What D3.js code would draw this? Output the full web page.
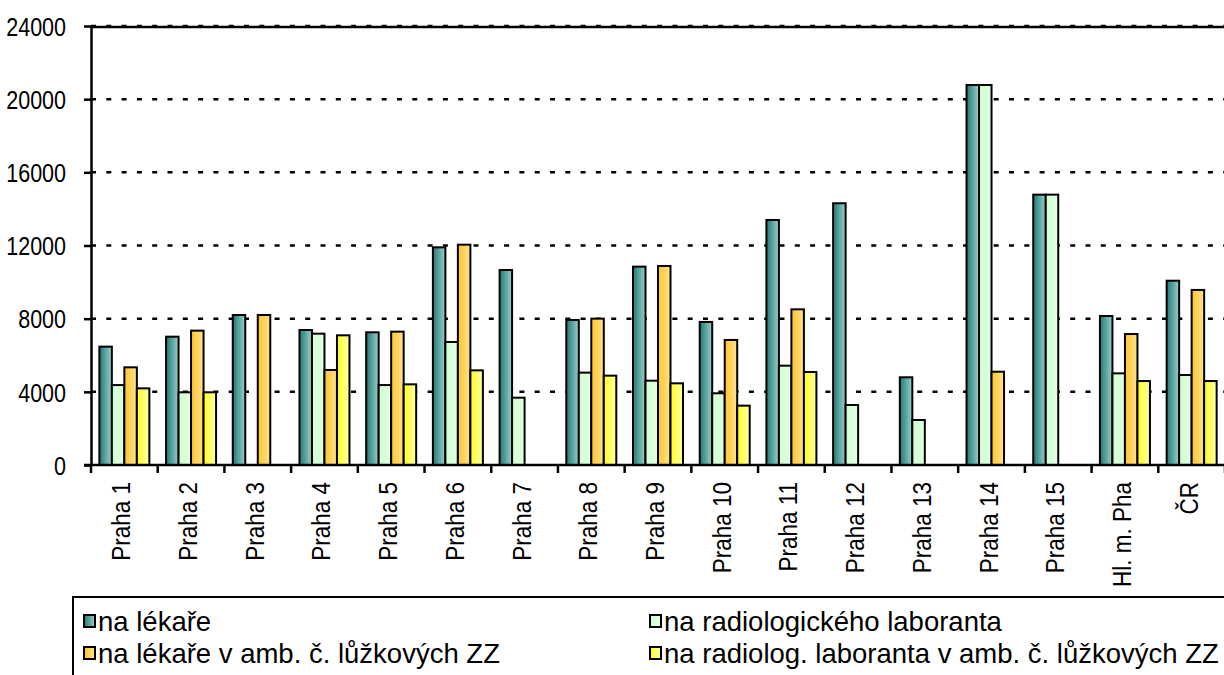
<!DOCTYPE html>
<html><head><meta charset="utf-8">
<script src="https://cdn.jsdelivr.net/npm/d3@7"></script>
<style>
html,body{margin:0;padding:0;background:#fff;overflow:hidden}
text{font-family:"Liberation Sans",Arial,sans-serif;fill:#000}
</style></head>
<body>
<svg id="c" width="1224" height="675"></svg>
<script>
const categories = ["Praha 1","Praha 2","Praha 3","Praha 4","Praha 5","Praha 6","Praha 7","Praha 8","Praha 9","Praha 10","Praha 11","Praha 12","Praha 13","Praha 14","Praha 15","Hl. m. Pha","ČR"];
const seriesNames = ["na lékaře","na radiologického laboranta","na lékaře v amb. č. lůžkových ZZ","na radiolog. laboranta v amb. č. lůžkových ZZ"];
const naLekare   = [6470, 7015, 8200, 7380, 7255, 11900, 10660, 7930, 10845, 7820, 13395, 14310, 4795, 20775, 14780, 8145, 10075];
const naRadLab   = [4370, 3975, null, 7180, 4370, 6725, 3680, 5050, 4610, 3920, 5430, 3280, 2460, 20775, 14780, 5010, 4920];
const naLekAmb   = [5340, 7345, 8200, 5195, 7290, 12045, null, 8000, 10880, 6835, 8510, null, null, 5100, null, 7160, 9570];
const naRadAmb   = [4190, 3975, null, 7090, 4410, 5175, null, 4885, 4465, 3245, 5085, null, null, null, null, 4590, 4590];
const yTicks = [0, 4000, 8000, 12000, 16000, 20000, 24000];

const seriesValues = [naLekare, naRadLab, naLekAmb, naRadAmb];
const svg = d3.select("#c");
const defs = svg.append("defs");
const grads = [
  ["g0", "#1f7a74", "#9ccfcb"],
  ["g1", "#cfffd0", "#e2ffe2"],
  ["g2", "#ffc42e", "#ffe38c"],
  ["g3", "#ffff22", "#ffffa8"]
];
grads.forEach(([id, a, b]) => {
  const g = defs.append("linearGradient").attr("id", id).attr("x1", "0").attr("x2", "1").attr("y1", "0").attr("y2", "0");
  g.append("stop").attr("offset", "0").attr("stop-color", a);
  g.append("stop").attr("offset", "1").attr("stop-color", b);
});

const pL = 91, pR = 1225, pT = 26, pB = 465;
const x0 = d3.scaleBand().domain(categories).range([pL, pR]).paddingInner(0).paddingOuter(0);
const groupW = 50;
const x1 = d3.scaleBand().domain(d3.range(4)).range([0, groupW]);
const y = d3.scaleLinear().domain([0, 24000]).range([pB, pT]);

// gridlines
svg.append("g").selectAll("line").data(yTicks.filter(t => t > 0)).join("line")
  .attr("x1", pL).attr("x2", pR).attr("y1", d => y(d)).attr("y2", d => y(d))
  .attr("stroke", "#000").attr("stroke-width", 2.5).attr("stroke-dasharray", "5,10.3");
// top border
svg.append("line").attr("x1", pL).attr("x2", pR).attr("y1", pT + 1).attr("y2", pT + 1)
  .attr("stroke", "#000").attr("stroke-width", 2.5);

// bars
const off = (x0.bandwidth() - groupW) / 2;
seriesValues.forEach((vals, si) => {
  svg.append("g").selectAll("rect").data(categories.map((c, i) => ({c, v: vals[i]})).filter(d => d.v != null)).join("rect")
    .attr("x", d => x0(d.c) + off + x1(si))
    .attr("y", d => y(d.v))
    .attr("width", x1.bandwidth())
    .attr("height", d => y(0) - y(d.v))
    .attr("fill", `url(#g${si})`)
    .attr("stroke", "#000").attr("stroke-width", 2);
});

// y axis
const yAxis = d3.axisLeft(y).tickValues(yTicks).tickSize(7).tickSizeOuter(0).tickFormat(d3.format("d"));
const ya = svg.append("g").attr("transform", `translate(${pL},0)`).call(yAxis);
ya.select(".domain").attr("stroke", "#000").attr("stroke-width", 2.5);
ya.selectAll(".tick line").attr("stroke", "#000").attr("stroke-width", 2.5);
ya.selectAll(".tick text").attr("font-size", 21.5).attr("x", 0).attr("dy", "0.35em")
  .attr("transform", "translate(-25,0) scale(1,1.22)");

// x axis
const xa = svg.append("g").attr("transform", `translate(0,${pB})`);
xa.append("line").attr("x1", pL - 7).attr("x2", pR).attr("y1", 0).attr("y2", 0).attr("stroke", "#000").attr("stroke-width", 2.5);
xa.selectAll("line.tk").data(categories.concat(["_end"])).join("line").attr("class", "tk")
  .attr("x1", (d, i) => pL + i * x0.step()).attr("x2", (d, i) => pL + i * x0.step())
  .attr("y1", 0).attr("y2", 8).attr("stroke", "#000").attr("stroke-width", 2.5);
xa.selectAll("text").data(categories).join("text")
  .attr("transform", d => `translate(${x0(d) + x0.bandwidth() / 2 + 6},${17}) rotate(-90) scale(1,1.15)`)
  .attr("text-anchor", "end").attr("font-size", 22.5).text(d => d);

// legend
const lg = svg.append("g");
lg.append("rect").attr("x", 73).attr("y", 597).attr("width", 1200).attr("height", 120)
  .attr("fill", "none").attr("stroke", "#000").attr("stroke-width", 2);
const lx = [84, 650], ly = [621, 653];
seriesNames.forEach((n, i) => {
  const gx = lx[i % 2], gy = ly[Math.floor(i / 2)];
  lg.append("rect").attr("x", gx).attr("y", gy - 6).attr("width", 11).attr("height", 12)
    .attr("fill", `url(#g${i})`).attr("stroke", "#000").attr("stroke-width", 2);
  lg.append("text").attr("x", gx + 14).attr("y", gy).attr("dy", "0.36em").attr("font-size", 27.5).text(n);
});
</script>
</body></html>
